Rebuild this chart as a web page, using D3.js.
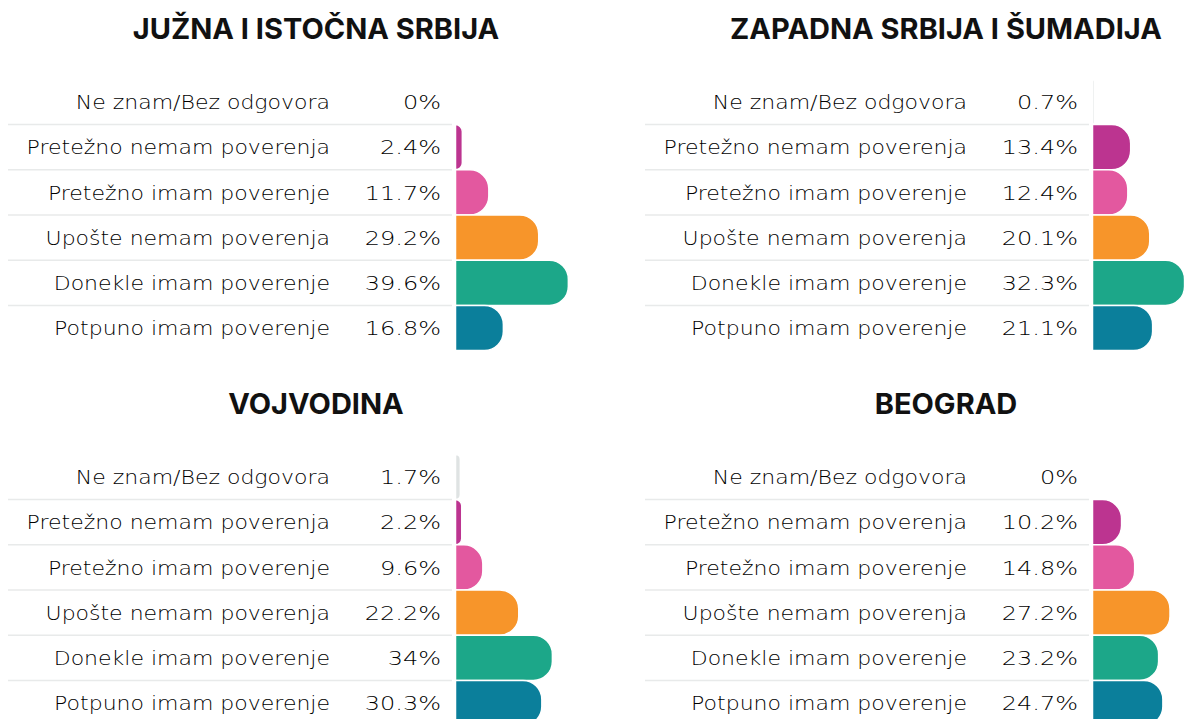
<!DOCTYPE html>
<html>
<head>
<meta charset="utf-8">
<script src="https://cdn.jsdelivr.net/npm/d3@7"></script>
<style>
  html, body { margin: 0; padding: 0; background: #ffffff; }
  svg { display: block; }
</style>
</head>
<body>
<div id="chart"></div>
<script>
const categories = [
  "Ne znam/Bez odgovora",
  "Pretežno nemam poverenja",
  "Pretežno imam poverenje",
  "Upošte nemam poverenja",
  "Donekle imam poverenje",
  "Potpuno imam poverenje"
];
const regionTitles = ["JUŽNA I ISTOČNA SRBIJA", "ZAPADNA SRBIJA I ŠUMADIJA", "VOJVODINA", "BEOGRAD"];
const valuesJuznaIstocna = [0, 2.4, 11.7, 29.2, 39.6, 16.8];
const valuesZapadnaSumadija = [0.7, 13.4, 12.4, 20.1, 32.3, 21.1];
const valuesVojvodina = [1.7, 2.2, 9.6, 22.2, 34, 30.3];
const valuesBeograd = [0, 10.2, 14.8, 27.2, 23.2, 24.7];
const categoryColors = ["#dfe3e3", "#bc3490", "#e3589f", "#f7952a", "#1ca789", "#0b7f9b"];

const panels = [
  { title: regionTitles[0], values: valuesJuznaIstocna, dx: 0, dy: 0, tx: 316 },
  { title: regionTitles[1], values: valuesZapadnaSumadija, dx: 637, dy: 0, tx: 309 },
  { title: regionTitles[2], values: valuesVojvodina, dx: 0, dy: 375, tx: 316 },
  { title: regionTitles[3], values: valuesBeograd, dx: 637, dy: 375, tx: 309 }
];

const W = 1186, H = 719;
const svg = d3.select("#chart").append("svg").attr("width", W).attr("height", H);

const rowH = 45.2;
const top0 = 79.4;
const barX0 = 455.5;
const x = d3.scaleLinear().domain([0, 40]).range([0, 114]);
const y = d3.scaleBand().domain(categories).range([top0, top0 + rowH * categories.length]).padding(0);
const color = d3.scaleOrdinal().domain(categories).range(categoryColors);

const textFont = "'DejaVu Sans', sans-serif";

function barPath(x0, y0, w, h) {
  if (w <= 0) return "";
  const r = Math.min(19, w, h / 2);
  return `M${x0},${y0}H${x0 + w - r}A${r},${r} 0 0 1 ${x0 + w},${y0 + r}` +
         `V${y0 + h - r}A${r},${r} 0 0 1 ${x0 + w - r},${y0 + h}H${x0}Z`;
}

panels.forEach(p => {
  const g = svg.append("g").attr("transform", `translate(${p.dx},${p.dy})`);

  g.append("text")
    .attr("x", p.tx).attr("y", 38.5)
    .attr("text-anchor", "middle")
    .style("font-family", "Inter, 'Liberation Sans', sans-serif")
    .style("font-weight", 700)
    .style("font-size", "29px")
    .style("fill", "#111")
    .text(p.title);

  const data = categories.map((c, i) => ({ cat: c, value: p.values[i] }));

  g.selectAll("line.sep").data(categories.slice(1)).join("line")
    .attr("class", "sep")
    .attr("x1", 8).attr("x2", 452)
    .attr("y1", d => y(d)).attr("y2", d => y(d))
    .style("stroke", "#e8eaea").style("stroke-width", 1.5);

  g.selectAll("path.bar").data(data).join("path")
    .attr("class", "bar")
    .attr("d", d => barPath(barX0, y(d.cat), x(d.value) - x(0), y.bandwidth()))
    .style("fill", d => color(d.cat))
    .style("stroke", "#fff").style("stroke-width", 1.5);

  g.selectAll("text.lab").data(data).join("text")
    .attr("class", "lab")
    .attr("transform", d => `translate(330,${y(d.cat) + y.bandwidth() / 2}) scale(1.1,1)`)
    .attr("dy", "0.36em")
    .attr("text-anchor", "end")
    .style("font-family", textFont)
    .style("font-weight", 200)
    .style("font-size", "20px")
    .style("fill", "#000")
    .text(d => d.cat);

  g.selectAll("text.val").data(data).join("text")
    .attr("class", "val")
    .attr("transform", d => `translate(441,${y(d.cat) + y.bandwidth() / 2}) scale(1.2,1)`)
    .attr("dy", "0.36em")
    .attr("text-anchor", "end")
    .style("font-family", textFont)
    .style("font-weight", 200)
    .style("font-size", "20px")
    .style("fill", "#000")
    .text(d => d.value + "%");
});
</script>
</body>
</html>
